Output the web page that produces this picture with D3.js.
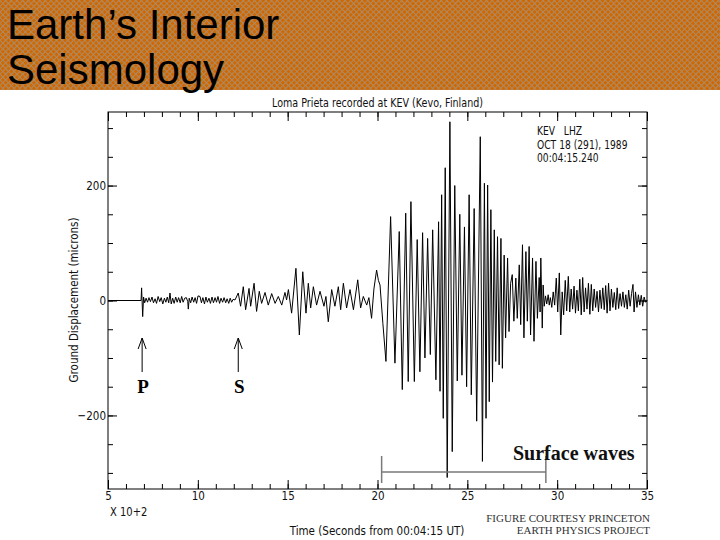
<!DOCTYPE html>
<html><head><meta charset="utf-8">
<script src="https://cdn.jsdelivr.net/npm/d3@7"></script>
<style>
body{margin:0;background:#fff}
svg{display:block}
.narrow{font-family:"DejaVu Sans","Liberation Sans",sans-serif}
</style>
</head><body>
<svg id="c" width="720" height="540"></svg>
<script>
// ---------- data ----------
const bannerTitle = ["Earth\u2019s Interior", "Seismology"];
const chartTitle = "Loma Prieta recorded at KEV (Kevo, Finland)";
const stationInfo = ["KEV   LHZ", "OCT 18 (291), 1989", "00:04:15.240"];
const xLabel = "Time (Seconds from 00:04:15 UT)";
const xScaleNote = "X 10+2";
const yLabel = "Ground Displacement (microns)";
const credit = ["FIGURE COURTESY PRINCETON", "EARTH PHYSICS PROJECT"];
const xTickLabels = [5, 10, 15, 20, 25, 30, 35];
const xMinorTicks = [5,6,7,8,9,10,11,12,13,14,15,16,17,18,19,20,21,22,23,24,25,26,27,28,29,30,31,32,33,34,35];
const yTickLabels = [-200, 0, 200];
const yMinorTicks = [-300,-250,-200,-150,-100,-50,0,50,100,150,200,250,300];
const phaseNames = ["P", "S"];
const phaseTimes = [6.9, 12.25];
const surfaceWaveLabel = "Surface waves";
const surfaceWaveSpan = [20.23, 29.37];

// seismogram: time (x100 s) and ground displacement (microns), read at turning points
const time = [
 5.00,6.84,6.87,6.93,6.98,7.04,7.12,7.20,7.28,7.36,7.45,7.53,7.62,7.70,7.79,7.88,7.96,8.05,8.14,8.22,
 8.30,8.38,8.45,8.52,8.60,8.68,8.77,8.85,8.93,9.02,9.10,9.18,9.27,9.36,9.44,9.47,9.52,9.60,9.68,9.77,
 9.85,9.93,10.01,10.12,10.20,10.28,10.37,10.45,10.53,10.62,10.70,10.79,10.87,10.96,11.04,11.12,11.21,11.29,11.38,11.46,
 11.55,11.63,11.72,11.80,11.88,11.96,
 12.07,12.25,12.38,12.53,12.66,12.85,12.94,13.13,13.27,13.42,13.55,13.74,13.92,14.11,14.30,14.48,14.67,14.85,14.94,15.04,
 15.22,15.46,15.65,15.84,16.02,16.15,16.28,16.43,16.61,16.80,17.02,17.13,17.26,17.45,17.63,17.82,17.95,18.10,18.28,18.47,
 18.66,18.90,19.06,19.21,19.40,19.52,19.67,19.80,19.95,20.05,20.14,20.30,20.47,20.73,20.97,21.21,21.38,21.57,21.71,21.86,
 22.05,22.21,22.36,22.51,22.64,22.79,22.94,23.07,23.25,23.40,23.48,23.57,23.66,23.77,23.88,24.03,24.16,24.30,24.44,24.58,
 24.70,24.84,24.96,25.10,25.22,25.38,25.52,25.72,25.84,25.95,26.04,26.13,26.22,26.31,26.40,26.50,26.58,26.68,26.77,26.87,
 26.95,27.05,27.13,27.24,27.32,27.41,27.50,27.59,27.70,27.78,27.89,27.97,28.07,28.15,28.26,28.34,28.44,28.52,28.63,28.71,
 28.82,28.90,29.00,29.05,29.09,29.17,29.22,29.28,29.35,29.42,29.50,29.56,29.62,29.70,29.78,29.86,29.95,30.03,30.12,30.20,
 30.28,30.36,30.45,30.53,30.62,30.70,30.78,30.86,30.94,31.02,31.10,31.18,31.26,31.34,31.42,31.50,31.58,31.66,31.74,31.82,
 31.90,31.98,32.06,32.14,32.22,32.30,32.38,32.46,32.54,32.62,32.70,32.78,32.86,32.94,33.02,33.10,33.18,33.26,33.34,33.42,
 33.50,33.58,33.66,33.74,33.82,33.90,33.98,34.06,34.14,34.22,34.28,34.36,34.44,34.52,34.60,34.68,34.76,34.84,34.92,35.00
];
const displacement = [
 0,0,22,-28,6,-4,4,-3,5,-2,6,-4,3,-5,7,-2,5,-6,4,-3,
 6,-4,13,-6,4,-5,6,-3,5,-4,7,-3,4,5,-2,-15,4,-4,6,-3,
 5,-5,8,7,-4,5,-6,6,-3,4,-5,6,-4,5,-3,7,-5,4,-3,5,
 -4,3,-5,4,-3,2,
 1,13,-10,24,-16,21,-10,30,-19,16,-5,14,-8,12,-5,7,-8,14,1,19,
 -22,56,-60,50,-22,30,-13,24,-8,16,-10,7,-37,19,-10,24,-16,30,-13,19,
 -16,36,-13,7,-8,5,-31,20,53,35,27,-40,-106,146,-109,120,-155,152,-141,172,
 -141,106,-124,118,-100,108,-94,123,-138,137,-158,184,-205,231,-308,311,-263,200,-140,150,
 -130,128,-150,184,-164,160,-210,285,-280,204,-205,201,-176,158,-142,123,-106,111,-112,108,
 -118,79,-65,74,-54,30,45,-36,39,-31,62,-42,97,-65,85,-36,94,-60,74,-71,
 68,-31,40,-20,74,-48,27,-10,8,-6,10,-8,5,-12,15,-8,39,-20,48,-60,
 15,-25,35,-18,42,-20,20,-15,25,-22,18,-18,37,-25,40,-20,22,-15,30,-24,
 28,-18,20,-12,16,-20,18,-14,22,-16,26,-22,30,-18,20,-12,14,-16,22,-14,
 12,-10,15,-12,10,-15,18,-10,12,28,-20,15,-12,10,-8,9,-10,6,-3,0
];

// ---------- layout ----------
const W = 720, H = 540;
const plot = {left: 108, right: 647, top: 112, bottom: 489};
const svg = d3.select("#c");

// plotter-style narrow text: every label squeezed by the same factor
let squeezeFactor = 0.8;
const squeeze = sel => sel.each(function(){
  const w = this.getComputedTextLength();
  d3.select(this).attr("textLength", w*squeezeFactor).attr("lengthAdjust","spacingAndGlyphs");
});

// banner with woven pattern
const defs = svg.append("defs");
const pat = defs.append("pattern").attr("id","weave").attr("width",4).attr("height",4)
  .attr("patternUnits","userSpaceOnUse").attr("patternTransform","rotate(45)");
pat.append("rect").attr("width",4).attr("height",4).attr("fill","#cf6800");
pat.append("path").attr("d","M0,0.5H4M0.5,0V4").attr("stroke","#ad8a66").attr("stroke-width",1).attr("fill","none");
svg.append("rect").attr("x",0).attr("y",0).attr("width",W).attr("height",90).attr("fill","url(#weave)");
svg.append("g").selectAll("text").data(bannerTitle).join("text")
  .attr("x",7).attr("y",(d,i)=>38.5+i*45)
  .attr("font-family","'Liberation Sans',Arial,Helvetica,sans-serif")
  .attr("font-size",42).attr("fill","#000").text(d=>d);

// scales
const x = d3.scaleLinear().domain([5,35]).range([plot.left, plot.right]);
const y = d3.scaleLinear().domain([-328,328]).range([plot.bottom, plot.top]);

// title sets the squeeze factor (measured width 211 px)
const titleEl = svg.append("text").attr("class","narrow").attr("x",272).attr("y",107)
  .attr("font-size",12).attr("fill","#111").text(chartTitle);
squeezeFactor = 211 / titleEl.node().getComputedTextLength();
titleEl.call(squeeze);

const axisFont = g => g.attr("font-family",null).attr("font-size",null).attr("class","narrow");

// frame
svg.append("rect").attr("x",plot.left).attr("y",plot.top)
  .attr("width",plot.right-plot.left).attr("height",plot.bottom-plot.top)
  .attr("fill","none").attr("stroke","#000").attr("stroke-width",1);

// bottom axis: minor + major ticks (inward)
svg.append("g").attr("transform",`translate(0,${plot.bottom})`)
  .call(d3.axisBottom(x).tickValues(xMinorTicks).tickSize(-5).tickFormat(""))
  .call(g=>g.select(".domain").remove());
svg.append("g").attr("transform",`translate(0,${plot.bottom})`)
  .call(d3.axisBottom(x).tickValues(xTickLabels).tickSize(-9).tickPadding(2).tickFormat(d3.format("d")))
  .call(axisFont).call(g=>g.select(".domain").remove())
  .call(g=>g.selectAll("text").attr("font-size",13).attr("fill","#111").call(squeeze));
// top axis ticks
svg.append("g").attr("transform",`translate(0,${plot.top})`)
  .call(d3.axisTop(x).tickValues(xMinorTicks).tickSize(-5).tickFormat(""))
  .call(g=>g.select(".domain").remove());
svg.append("g").attr("transform",`translate(0,${plot.top})`)
  .call(d3.axisTop(x).tickValues(xTickLabels).tickSize(-9).tickFormat(""))
  .call(g=>g.select(".domain").remove());
// left axis
svg.append("g").attr("transform",`translate(${plot.left},0)`)
  .call(d3.axisLeft(y).tickValues(yMinorTicks).tickSize(-5).tickFormat(""))
  .call(g=>g.select(".domain").remove());
svg.append("g").attr("transform",`translate(${plot.left},0)`)
  .call(d3.axisLeft(y).tickValues(yTickLabels).tickSize(-9).tickPadding(2).tickFormat(d3.format("d")))
  .call(axisFont).call(g=>g.select(".domain").remove())
  .call(g=>g.selectAll("text").attr("font-size",13).attr("fill","#111").call(squeeze));
// right axis
svg.append("g").attr("transform",`translate(${plot.right},0)`)
  .call(d3.axisRight(y).tickValues(yMinorTicks).tickSize(-5).tickFormat(""))
  .call(g=>g.select(".domain").remove());
svg.append("g").attr("transform",`translate(${plot.right},0)`)
  .call(d3.axisRight(y).tickValues(yTickLabels).tickSize(-9).tickFormat(""))
  .call(g=>g.select(".domain").remove());

// seismogram trace
const pts = time.map((t,i)=>[t, displacement[i]]);
svg.append("path").datum(pts)
  .attr("d", d3.line().x(d=>x(d[0])).y(d=>y(d[1])))
  .attr("fill","none").attr("stroke","#000").attr("stroke-width",1).attr("stroke-linejoin","round");

// texts
const plotText = (s, px, py, size, anchor) => svg.append("text").attr("class","narrow")
  .attr("x",px).attr("y",py).attr("font-size",size).attr("fill","#111")
  .attr("text-anchor",anchor||"start")
  .attr("xml:space","preserve").style("white-space","pre").text(s).call(squeeze);

stationInfo.forEach((s,i)=>plotText(s, 537, 135+i*13.5, 11.5));
plotText(xScaleNote, 110, 516, 12.5);
plotText(xLabel, 377, 535, 13, "middle");
svg.append("text").attr("class","narrow").attr("transform","translate(78,300) rotate(-90)")
  .attr("text-anchor","middle").attr("font-size",13).attr("fill","#111").text(yLabel).call(squeeze);
svg.append("g").selectAll("text").data(credit).join("text")
  .attr("x",650).attr("y",(d,i)=>522+i*12).attr("text-anchor","end")
  .attr("font-family","'Liberation Serif','Times New Roman',serif").attr("font-size",11)
  .attr("fill","#333").text(d=>d);

// phase arrows
const arrows = svg.append("g").selectAll("g").data(phaseNames).join("g");
arrows.append("path")
  .attr("d",(d,i)=>{const px=x(phaseTimes[i]);return `M${px},372V338M${px-4},349L${px},338L${px+4},349`;})
  .attr("fill","none").attr("stroke","#000").attr("stroke-width",1);
arrows.append("text").attr("x",(d,i)=>x(phaseTimes[i])+1).attr("y",393).attr("text-anchor","middle")
  .attr("font-family","'Liberation Serif','Times New Roman',serif").attr("font-weight","bold")
  .attr("font-size",19).text(d=>d);

// surface-wave bracket
const bx0 = x(surfaceWaveSpan[0]), bx1 = x(surfaceWaveSpan[1]);
svg.append("path").attr("d",`M${bx0},456V483M${bx0},472H${bx1}M${bx1},456V483`)
  .attr("fill","none").attr("stroke","#7a7a7a").attr("stroke-width",1.5);
svg.append("text").attr("x",513).attr("y",460)
  .attr("font-family","'Liberation Serif','Times New Roman',serif").attr("font-weight","bold")
  .attr("font-size",20).attr("fill","#111").text(surfaceWaveLabel);
</script>
</body></html>
